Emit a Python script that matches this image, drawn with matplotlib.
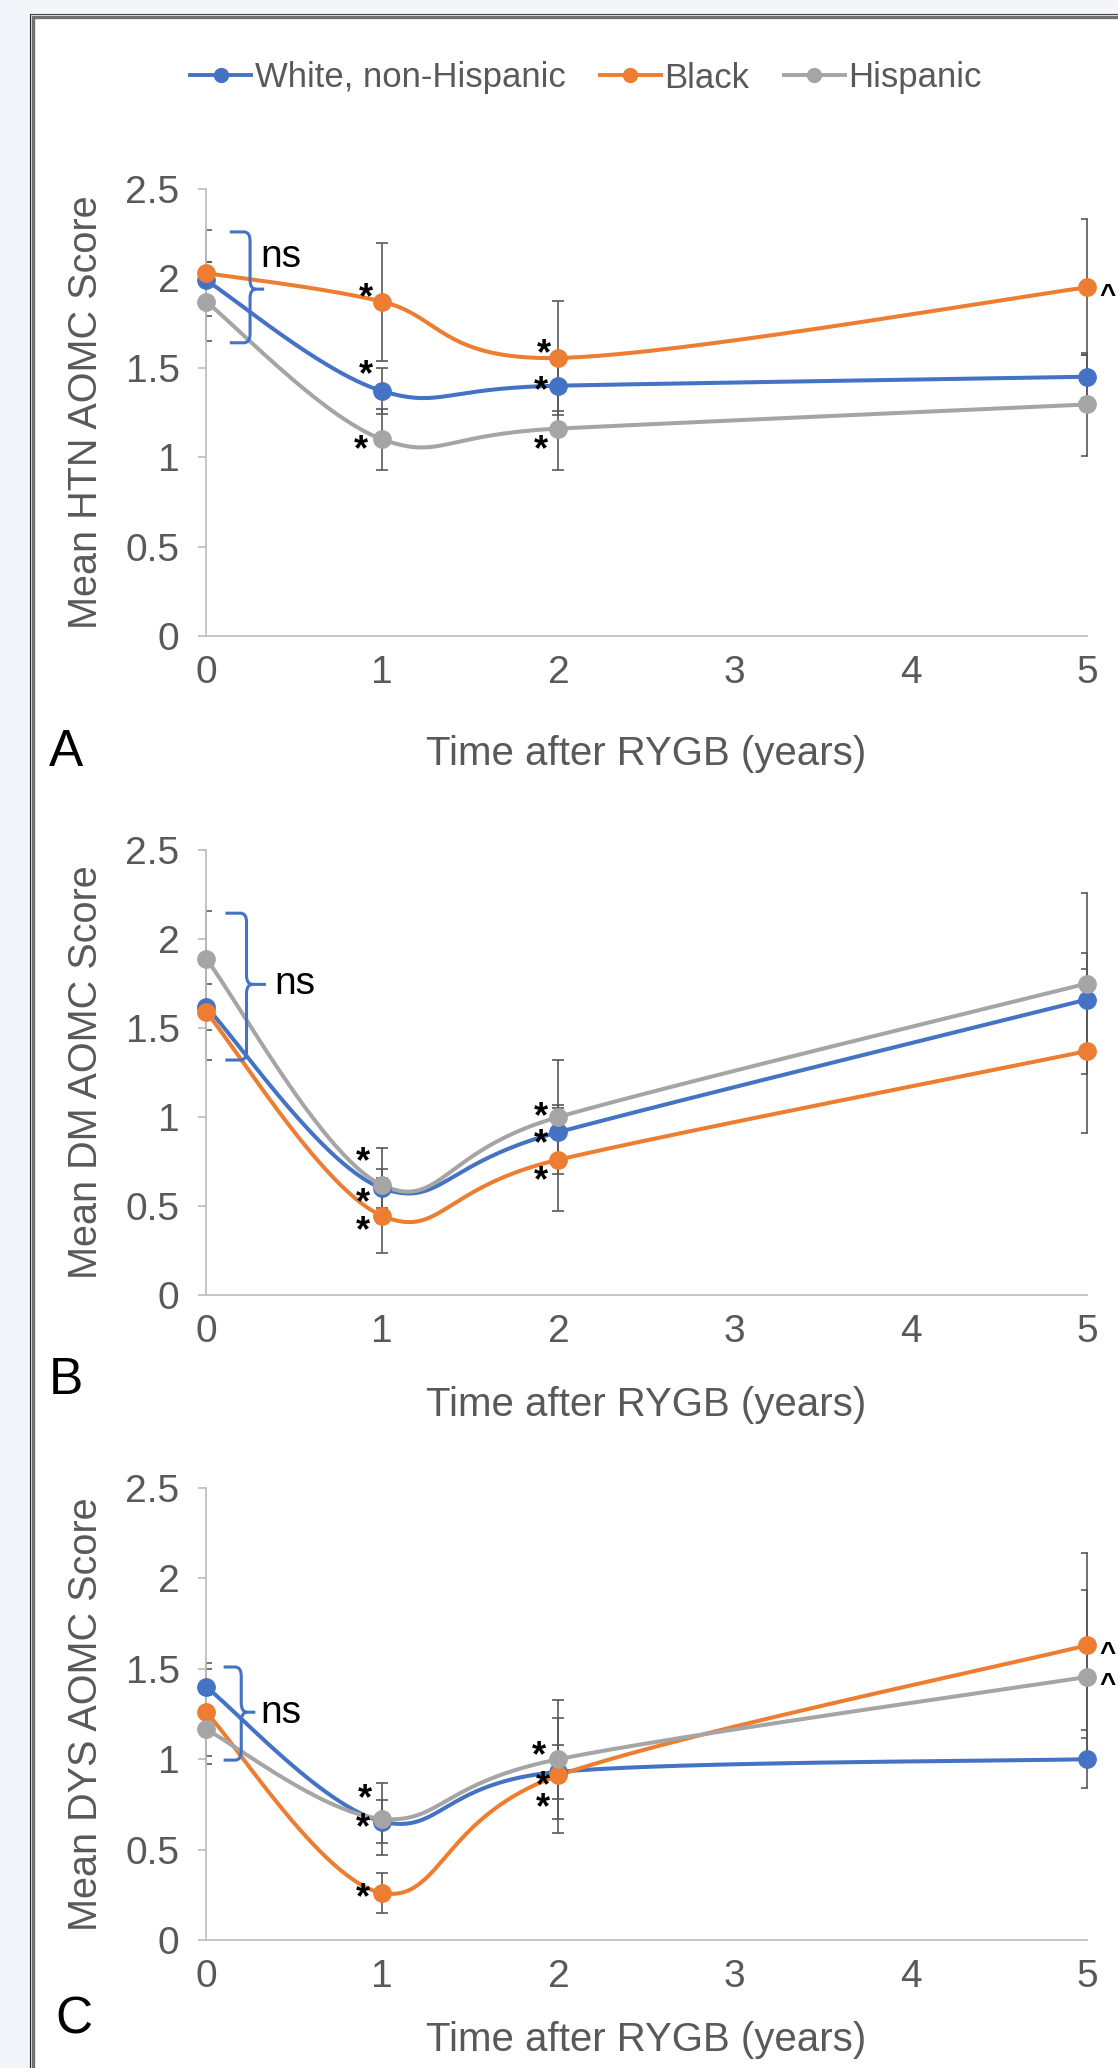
import numpy as np
import matplotlib
matplotlib.use("Agg")
import matplotlib.pyplot as plt
from matplotlib.path import Path
from matplotlib.patches import PathPatch, Rectangle
from matplotlib.lines import Line2D
import matplotlib.transforms as mtransforms

# ---------------- data ----------------
years = [0, 1, 2, 5]
series_names = ["White, non-Hispanic", "Black", "Hispanic"]
colors = ["#4472C4", "#ED7D31", "#A5A5A5"]
y_ticks = [0, 0.5, 1, 1.5, 2, 2.5]
y_tick_labels = ["0", "0.5", "1", "1.5", "2", "2.5"]
x_ticks = [0, 1, 2, 3, 4, 5]

htn_white = [1.99, 1.37, 1.40, 1.45]
htn_black = [2.03, 1.87, 1.555, 1.95]
htn_hisp = [1.87, 1.10, 1.16, 1.295]
htn_white_err = [0.10, 0.13, 0.14, 0.12]
htn_black_err = [0.24, 0.33, 0.32, 0.38]
htn_hisp_err = [0.22, 0.17, 0.23, 0.29]

dm_white = [1.62, 0.60, 0.915, 1.66]
dm_black = [1.59, 0.445, 0.76, 1.37]
dm_hisp = [1.89, 0.617, 1.00, 1.75]
dm_white_err = [0.13, 0.11, 0.15, 0.26]
dm_black_err = [0.27, 0.21, 0.29, 0.46]
dm_hisp_err = [0.27, 0.21, 0.32, 0.51]

dys_white = [1.40, 0.655, 0.93, 1.00]
dys_black = [1.26, 0.26, 0.91, 1.63]
dys_hisp = [1.165, 0.67, 1.00, 1.455]
dys_white_err = [0.13, 0.12, 0.15, 0.16]
dys_black_err = [0.24, 0.11, 0.32, 0.51]
dys_hisp_err = [0.19, 0.20, 0.33, 0.48]

y_titles = ["Mean HTN AOMC Score", "Mean DM AOMC Score", "Mean DYS AOMC Score"]
panel_letters = ["A", "B", "C"]
x_title = "Time after RYGB (years)"

# significance annotations (text positions in data units)
htn_stars = [(0.91, 1.95), (0.91, 1.52), (0.88, 1.10), (1.92, 1.64), (1.90, 1.43), (1.90, 1.10)]
dm_stars = [(0.89, 0.81), (0.89, 0.58), (0.89, 0.42), (1.90, 1.06), (1.90, 0.91), (1.90, 0.70)]
dys_stars = [(0.90, 0.84), (0.89, 0.68), (0.89, 0.29), (1.89, 1.08), (1.91, 0.91), (1.91, 0.79)]
htn_carets = [(5.07, 1.95)]
dm_carets = []
dys_carets = [(5.07, 1.63), (5.07, 1.455)]
# ns brackets: x_end, x_spine, x_tip, y_lo, y_hi, y_tip, ns_x, ns_y
htn_ns = (0.135, 0.25, 0.33, 1.64, 2.26, 1.94, 0.31, 2.12)
dm_ns = (0.11, 0.23, 0.34, 1.32, 2.145, 1.745, 0.39, 1.75)
dys_ns = (0.10, 0.20, 0.28, 0.995, 1.51, 1.26, 0.31, 1.255)

panels = [
    ([htn_white, htn_black, htn_hisp], [htn_white_err, htn_black_err, htn_hisp_err], htn_stars, htn_carets, htn_ns),
    ([dm_white, dm_black, dm_hisp], [dm_white_err, dm_black_err, dm_hisp_err], dm_stars, dm_carets, dm_ns),
    ([dys_white, dys_black, dys_hisp], [dys_white_err, dys_black_err, dys_hisp_err], dys_stars, dys_carets, dys_ns),
]

# ---------------- layout (pixels) ----------------
W, H = 1118, 2068
ax_left, ax_right = 206, 1087
ax_tops = [189, 850, 1488]
ax_bottoms = [636, 1295, 1940]
xlabel_y = [754, 1405, 2040]
letter_pos = [(66, 752), (66, 1380), (74, 2020)]
ylabel_x = 86

FONT = ["Liberation Sans", "DejaVu Sans"]
plt.rcParams["font.family"] = FONT
TXT = "#595959"


def excel_smooth(xs, ys, n=60):
    P = np.column_stack([np.asarray(xs, float), np.asarray(ys, float)])
    out = []
    for i in range(len(P) - 1):
        p0 = P[i - 1] if i > 0 else P[i]
        p1, p2 = P[i], P[i + 1]
        p3 = P[i + 2] if i + 2 < len(P) else P[i + 1]
        c1 = p1 + (p2 - p0) / 6.0
        c2 = p2 - (p3 - p1) / 6.0
        t = np.linspace(0, 1, n)[:, None]
        seg = (1 - t) ** 3 * p1 + 3 * (1 - t) ** 2 * t * c1 + 3 * (1 - t) * t ** 2 * c2 + t ** 3 * p2
        out.append(seg if i == 0 else seg[1:])
    return np.vstack(out)


def px2fig(x, y):
    return x / W, 1 - y / H


fig = plt.figure(figsize=(W / 100, H / 100), dpi=100)
fig.patch.set_facecolor("#f3f5fa")

# outer frame (white panel with dark double border on left/top)
fx, fy = px2fig(33, 17)
frame = Rectangle((fx, -0.1), 2, fy + 0.1, transform=fig.transFigure,
                  facecolor="white", edgecolor="#707070", linewidth=2.4, zorder=-10)
fig.patches.append(frame)
fig.add_artist(Line2D([30.5 / W, 30.5 / W], [0, 1 - 14 / H], transform=fig.transFigure,
                      color="#222222", linewidth=0.8, zorder=-5))
fig.add_artist(Line2D([30.5 / W, 1], [1 - 14 / H, 1 - 14 / H], transform=fig.transFigure,
                      color="#444444", linewidth=0.8, zorder=-5))

for k, (vals, errs, stars, carets, ns) in enumerate(panels):
    top, bot = ax_tops[k], ax_bottoms[k]
    ax = fig.add_axes([ax_left / W, 1 - bot / H, (ax_right - ax_left) / W, (bot - top) / H])
    ax.set_zorder(2)
    ax.set_facecolor("none")
    ax.set_xlim(0, 5)
    ax.set_ylim(0, 2.5)
    for s in ["top", "right"]:
        ax.spines[s].set_visible(False)
    for s in ["left", "bottom"]:
        ax.spines[s].set_color("#bfbfbf")
        ax.spines[s].set_linewidth(1.3)
    ax.set_yticks(y_ticks)
    ax.set_yticklabels(y_tick_labels)
    ax.set_xticks(x_ticks)
    ax.tick_params(axis="y", length=6, width=1.3, color="#bfbfbf", labelsize=28,
                   labelcolor=TXT, pad=13)
    ax.tick_params(axis="x", length=0, labelsize=28, labelcolor=TXT, pad=14)
    for lab in ax.get_xticklabels() + ax.get_yticklabels():
        lab.set_fontfamily(FONT)

    for v, e in zip(vals, errs):
        _, caps, bars = ax.errorbar(years, v, yerr=e, fmt="none", ecolor="#595959",
                                    elinewidth=1.2, capsize=4.5, capthick=1.2, zorder=2)
        for b in bars:
            b.set_clip_on(False)
        for cl in caps:
            cl.set_clip_on(True)  # caps at the plot edges are cut, as in Excel
    for v, c in zip(vals, colors):
        curve = excel_smooth(years, v)
        ax.plot(curve[:, 0], curve[:, 1], color=c, lw=2.9, zorder=3, clip_on=False,
                solid_capstyle="round")
        ax.plot(years, v, "o", color=c, ms=12.5, zorder=4, clip_on=False)

    star_tr = mtransforms.offset_copy(ax.transData, fig=fig, y=-0.58 * 26, units="points")
    for (sx, sy) in stars:
        ax.text(sx, sy, "*", fontsize=26, fontweight="bold", color="black", ha="center",
                va="baseline", transform=star_tr, zorder=5, clip_on=False)
    car_tr = mtransforms.offset_copy(ax.transData, fig=fig, y=-0.55 * 20, units="points")
    for (cx, cy) in carets:
        ax.text(cx, cy, "^", fontsize=20, fontweight="bold", color="black", ha="left",
                va="baseline", transform=car_tr, zorder=5, clip_on=False)

    # ns bracket
    x_end, x_sp, x_tip, y_lo, y_hi, y_tip, nsx, nsy = ns
    rx, ry = 0.035, 0.05
    verts = [(x_end, y_hi), (x_sp - rx, y_hi), (x_sp, y_hi), (x_sp, y_hi - ry),
             (x_sp, y_tip + ry), (x_sp, y_tip), (x_sp + rx, y_tip), (x_tip, y_tip)]
    codes = [Path.MOVETO, Path.LINETO, Path.CURVE3, Path.CURVE3,
             Path.LINETO, Path.CURVE3, Path.CURVE3, Path.LINETO]
    verts2 = [(x_end, y_lo), (x_sp - rx, y_lo), (x_sp, y_lo), (x_sp, y_lo + ry),
              (x_sp, y_tip - ry), (x_sp, y_tip), (x_sp + rx, y_tip)]
    codes2 = [Path.MOVETO, Path.LINETO, Path.CURVE3, Path.CURVE3,
              Path.LINETO, Path.CURVE3, Path.CURVE3]
    for vv, cc in [(verts, codes), (verts2, codes2)]:
        ax.add_patch(PathPatch(Path(vv, cc), facecolor="none", edgecolor="#4472C4",
                               lw=2.2, zorder=5, clip_on=False))
    ax.text(nsx, nsy, "ns", fontsize=28, color="black", ha="left", va="center", zorder=5)

    # titles
    cy = (top + bot) / 2
    fig.text(*px2fig(ylabel_x, cy), y_titles[k], rotation=90, ha="center", va="center",
             fontsize=28.5, color=TXT)
    fig.text(*px2fig((ax_left + ax_right) / 2, xlabel_y[k]), x_title, ha="center", va="center",
             fontsize=29, color=TXT)
    fig.text(*px2fig(*letter_pos[k]), panel_letters[k], ha="center", va="center",
             fontsize=37, color="black")

handles = [Line2D([], [], color=c, lw=2.8, marker="o", ms=10) for c in colors]
fig.legend(handles, series_names, loc="center", bbox_to_anchor=(586 / W, 1 - 78 / H),
           ncol=3, frameon=False, fontsize=25, handlelength=1.75, handletextpad=0.1,
           columnspacing=1.0, labelcolor=TXT)

fig.savefig("out.png", dpi=100, facecolor=fig.get_facecolor())
